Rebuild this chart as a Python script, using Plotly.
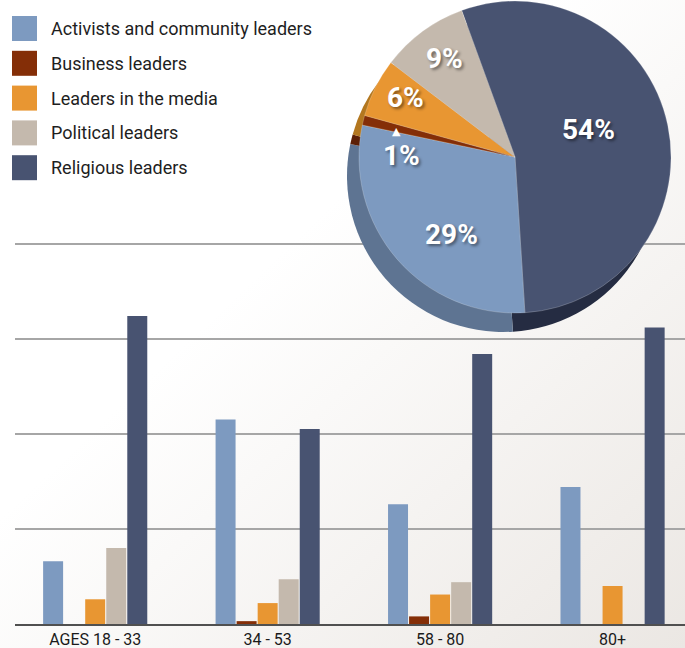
import base64
import plotly.graph_objects as go

W, H = 685, 648

# ---------------- data ----------------
age_groups = ["AGES 18 - 33", "34 - 53", "58 - 80", "80+"]
series_names = [
    "Activists and community leaders",
    "Business leaders",
    "Leaders in the media",
    "Political leaders",
    "Religious leaders",
]
activists = [0.66, 2.15, 1.26, 1.44]
business = [0.0, 0.03, 0.08, 0.0]
media = [0.26, 0.22, 0.31, 0.40]
political = [0.80, 0.47, 0.44, 0.0]
religious = [3.24, 2.05, 2.84, 3.12]

pie_labels = ["Religious leaders", "Activists and community leaders",
              "Business leaders", "Leaders in the media", "Political leaders"]
pie_values = [54, 29, 1, 6, 9]

# ---------------- styles ----------------
colors = {
    "Activists and community leaders": "#7d9ac0",
    "Business leaders": "#842e07",
    "Leaders in the media": "#e89632",
    "Political leaders": "#c4b9ad",
    "Religious leaders": "#485371",
}
side_colors = {
    "Activists and community leaders": "#5e7492",
    "Business leaders": "#5c1f05",
    "Leaders in the media": "#b3771f",
    "Political leaders": "#978b80",
    "Religious leaders": "#252c42",
}
FONT = "Roboto"

fig = go.Figure()

series_values = [activists, business, media, political, religious]
for name, vals in zip(series_names, series_values):
    fig.add_trace(go.Bar(
        x=age_groups, y=vals, name=name,
        marker=dict(color=colors[name], line=dict(width=0)),
        showlegend=False, hoverinfo="skip",
    ))


def px_domain(cx, cy, r):
    return dict(x=[(cx - r) / W, (cx + r) / W],
                y=[(H - (cy + r)) / H, (H - (cy - r)) / H])


# pie "side" (thickness) drawn as a darker, shifted pie
fig.add_trace(go.Pie(
    labels=pie_labels, values=pie_values, sort=False, direction="clockwise",
    rotation=-20, textinfo="none", hoverinfo="skip", showlegend=False,
    marker=dict(colors=[side_colors[l] for l in pie_labels], line=dict(width=0)),
    domain=px_domain(503, 176, 156),
))
# pie top face
fig.add_trace(go.Pie(
    labels=pie_labels, values=pie_values, sort=False, direction="clockwise",
    rotation=-20, textinfo="none", hoverinfo="skip", showlegend=False,
    marker=dict(colors=[colors[l] for l in pie_labels],
                line=dict(width=0.6, color="rgba(255,255,255,0.35)")),
    domain=px_domain(515, 157, 156),
))

# pie labels
label_pos = {
    "Religious leaders": (588, 129),
    "Activists and community leaders": (451, 235),
    "Business leaders": (401, 156),
    "Leaders in the media": (405, 97),
    "Political leaders": (444, 59),
}
annotations = []
for lab, v in zip(pie_labels, pie_values):
    x, y = label_pos[lab]
    annotations.append(dict(
        x=x / W, y=1 - y / H, xref="paper", yref="paper", showarrow=False,
        text=f"<b>{v}%</b>", xanchor="center", yanchor="middle",
        font=dict(family=FONT, size=28, color="white",
                  shadow="2px 2px 3px rgba(0,0,0,0.45)"),
    ))
annotations.append(dict(
    x=396 / W, y=1 - 131 / H, xref="paper", yref="paper", showarrow=False,
    text="▲", font=dict(family="DejaVu Sans", size=11, color="white"),
    xanchor="center", yanchor="middle",
))

# custom legend
shapes = []
for i, name in enumerate(series_names):
    yc = 28.5 + i * 34.8
    shapes.append(dict(
        type="rect", xref="paper", yref="paper", layer="above",
        x0=12 / W, x1=37 / W, y0=1 - (yc + 12.5) / H, y1=1 - (yc - 12.5) / H,
        fillcolor=colors[name], line=dict(width=0),
    ))
    annotations.append(dict(
        x=49 / W, y=1 - yc / H, xref="paper", yref="paper", showarrow=False,
        text=name, xanchor="left", yanchor="middle",
        font=dict(family=FONT, size=18, color="#1e1e1e"),
    ))

# background gradient (diagonal)
svg = (
    '<svg xmlns="http://www.w3.org/2000/svg" width="685" height="648" '
    'preserveAspectRatio="none" viewBox="0 0 685 648">'
    '<defs><linearGradient id="g" x1="0" y1="0" x2="1" y2="1">'
    '<stop offset="0" stop-color="#ffffff"/>'
    '<stop offset="0.4" stop-color="#ffffff"/>'
    '<stop offset="1" stop-color="#ebe7e3"/>'
    '</linearGradient></defs>'
    '<rect width="685" height="648" fill="url(#g)"/></svg>'
)
src = "data:image/svg+xml;base64," + base64.b64encode(svg.encode()).decode()

plot_top, plot_bottom = 239, 624
fig.update_layout(
    width=W, height=H,
    margin=dict(l=0, r=0, t=0, b=0),
    paper_bgcolor="white", plot_bgcolor="rgba(0,0,0,0)",
    barmode="group", bargap=0.39, bargroupgap=0.05,
    images=[dict(source=src, xref="paper", yref="paper", x=0, y=1,
                 sizex=1, sizey=1, sizing="stretch", layer="below")],
    shapes=shapes, annotations=annotations,
    xaxis=dict(
        domain=[15 / W, 1], range=[-0.465, 3.42],
        showgrid=False, showline=True, linecolor="#505050", linewidth=2,
        ticks="", tickfont=dict(family=FONT, size=16, color="#1a1a1a"),
        fixedrange=True,
    ),
    yaxis=dict(
        domain=[(H - plot_bottom) / H, (H - plot_top) / H], range=[0, 4.05],
        dtick=1, showgrid=True, gridcolor="#a6a6a6", gridwidth=2,
        zeroline=False, showticklabels=False, ticks="", fixedrange=True,
    ),
    font=dict(family=FONT),
)

fig.write_html("out.html")
